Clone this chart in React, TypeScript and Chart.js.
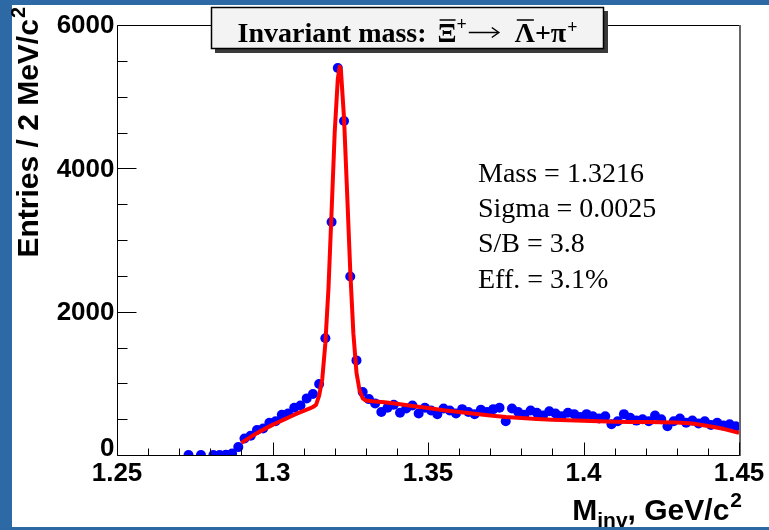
import React, { useEffect, useRef } from 'react';
import { Chart, registerables } from 'chart.js';

Chart.register(...registerables);

// ---- data (2 MeV bins, centres in GeV/c^2) ----
const binMass = [
  1.273, 1.277,
  1.281, 1.283, 1.285, 1.287, 1.289, 1.291, 1.293, 1.295, 1.297, 1.299,
  1.301, 1.303, 1.305, 1.307, 1.309, 1.311, 1.313, 1.315, 1.317, 1.319,
  1.321, 1.323, 1.325, 1.327, 1.329, 1.331, 1.333, 1.335, 1.337, 1.339,
  1.341, 1.343, 1.345, 1.347, 1.349, 1.351, 1.353, 1.355, 1.357, 1.359,
  1.361, 1.363, 1.365, 1.367, 1.369, 1.371, 1.373, 1.375, 1.377, 1.379,
  1.381, 1.383, 1.385, 1.387, 1.389, 1.391, 1.393, 1.395, 1.397, 1.399,
  1.401, 1.403, 1.405, 1.407, 1.409, 1.411, 1.413, 1.415, 1.417, 1.419,
  1.421, 1.423, 1.425, 1.427, 1.429, 1.431, 1.433, 1.435, 1.437, 1.439,
  1.441, 1.443, 1.445, 1.447, 1.449,
];
const binCounts = [
  0, 0,
  0, 0, 5, 20, 110, 230, 270, 350, 370, 450,
  470, 560, 580, 660, 690, 790, 850, 990, 1630, 3250,
  5400, 4660, 2490, 1320, 880, 780, 720, 600, 660, 700,
  590, 650, 690, 580, 660, 620, 570, 650, 620, 580,
  640, 600, 570, 630, 600, 640, 660, 470, 650, 600,
  560, 620, 590, 550, 610, 580, 540, 590, 570, 530,
  570, 540, 510, 540, 430, 470, 570, 520, 480, 500,
  470, 550, 500, 400, 470, 510, 450, 480, 440, 470,
  420, 450, 410, 430, 400,
];

// fitted curve (signal + background)
const fitMass = [
  1.290, 1.292, 1.294, 1.296, 1.298, 1.300, 1.302, 1.304, 1.306, 1.308,
  1.310, 1.312, 1.313, 1.314, 1.315, 1.316, 1.317, 1.318, 1.319, 1.320,
  1.321, 1.3216, 1.322, 1.323, 1.324, 1.325, 1.326, 1.327, 1.328, 1.329,
  1.330, 1.332, 1.336, 1.340, 1.345, 1.350, 1.355, 1.360, 1.365, 1.370,
  1.375, 1.380, 1.385, 1.390, 1.395, 1.400, 1.405, 1.410, 1.415, 1.420,
  1.425, 1.430, 1.435, 1.440, 1.445, 1.450,
];
const fitValues = [
  170, 225, 280, 330, 375, 420, 460, 500, 540, 580,
  615, 650, 670, 700, 830, 1060, 1560, 2330, 3400, 4500,
  5250, 5420, 5370, 4700, 3650, 2570, 1700, 1150, 900, 790,
  760, 750, 735, 715, 685, 655, 625, 600, 575, 550,
  530, 515, 503, 493, 485, 478, 470, 465, 462, 460,
  456, 452, 440, 405, 365, 310,
];

const xTickLabels = ['1.25', '1.3', '1.35', '1.4', '1.45'];
const yTickLabels = ['0', '2000', '4000', '6000'];
const xMinorStep = 0.01;
const yMinorStep = 500;

const statsLines = ['Mass = 1.3216', 'Sigma = 0.0025', 'S/B = 3.8', 'Eff. = 3.1%'];
const yTitleMain = 'Entries / 2 MeV/c';
const yTitleSup = '2';
const xTitleMain = 'M';
const xTitleSub = 'inv';
const xTitleRest = ', GeV/c';
const xTitleSup = '2';

const W = 769;
const H = 530;
const SANS = "'Liberation Sans', Arial, Helvetica, sans-serif";
const SERIF = "'Liberation Serif', 'Times New Roman', serif";

const decorPlugin = {
  id: 'decor',
  afterDatasetsDraw(chart: any) {
    const { ctx, chartArea: a, scales } = chart;
    const xs = scales.x;
    const ys = scales.y;
    ctx.save();

    // ---- frame ----
    const L = Math.round(a.left) + 0.5;
    const R = Math.round(a.right) + 0.5;
    const T = Math.round(a.top) + 0.5;
    const B = Math.round(a.bottom) + 0.5;
    ctx.strokeStyle = '#000';
    ctx.lineWidth = 1;
    ctx.beginPath();
    ctx.moveTo(R, T);
    ctx.lineTo(L, T);
    ctx.lineTo(L, B);
    ctx.lineTo(R, B);
    ctx.stroke();
    ctx.strokeStyle = '#666';
    ctx.lineWidth = 2;
    ctx.beginPath();
    ctx.moveTo(R + 0.5, T - 0.5);
    ctx.lineTo(R + 0.5, B + 0.5);
    ctx.stroke();

    // ---- ticks ----
    ctx.strokeStyle = '#000';
    ctx.lineWidth = 1;
    ctx.beginPath();
    for (let v = xs.min; v <= xs.max + 1e-9; v += xMinorStep) {
      const major = Math.abs(v * 20 - Math.round(v * 20)) < 1e-6;
      const px = Math.round(xs.getPixelForValue(v)) + 0.5;
      const len = major ? 13 : 7;
      ctx.moveTo(px, B);
      ctx.lineTo(px, B - len);
    }
    for (let v = ys.min; v <= ys.max + 1e-9; v += yMinorStep) {
      const major = v % 2000 === 0;
      const py = Math.round(ys.getPixelForValue(v)) + 0.5;
      const len = major ? 19 : 10;
      ctx.moveTo(L, py);
      ctx.lineTo(L + len, py);
    }
    ctx.stroke();

    // ---- tick labels ----
    ctx.fillStyle = '#000';
    ctx.font = `bold 26px ${SANS}`;
    ctx.textAlign = 'right';
    ctx.textBaseline = 'middle';
    yTickLabels.forEach((lab) => {
      const v = parseFloat(lab);
      let py = ys.getPixelForValue(v) + 1;
      if (v === 0) py -= 7;
      ctx.fillText(lab, L - 3, py);
    });
    ctx.textAlign = 'center';
    ctx.textBaseline = 'alphabetic';
    xTickLabels.forEach((lab) => {
      const px = xs.getPixelForValue(parseFloat(lab));
      ctx.fillText(lab, px, 481);
    });

    // ---- y axis title (rotated, aligned at top) ----
    ctx.save();
    ctx.translate(38, 7);
    ctx.rotate(-Math.PI / 2);
    ctx.font = `bold 30px ${SANS}`;
    const mW = ctx.measureText(yTitleMain).width;
    ctx.font = `bold 20px ${SANS}`;
    const sW = ctx.measureText(yTitleSup).width;
    ctx.textAlign = 'left';
    ctx.font = `bold 30px ${SANS}`;
    ctx.fillText(yTitleMain, -(mW + sW + 1), 0);
    ctx.font = `bold 20px ${SANS}`;
    ctx.fillText(yTitleSup, -sW, -13);
    ctx.restore();

    // ---- x axis title (right aligned) ----
    ctx.save();
    ctx.textAlign = 'left';
    ctx.font = `bold 30px ${SANS}`;
    const w1 = ctx.measureText(xTitleMain).width;
    const w3 = ctx.measureText(xTitleRest).width;
    ctx.font = `bold 21px ${SANS}`;
    const w2 = ctx.measureText(xTitleSub).width;
    const w4 = ctx.measureText(xTitleSup).width;
    let cx = 742 - (w1 + w2 + w3 + w4 + 1);
    const by = 520;
    ctx.font = `bold 30px ${SANS}`;
    ctx.fillText(xTitleMain, cx, by);
    cx += w1;
    ctx.font = `bold 21px ${SANS}`;
    ctx.fillText(xTitleSub, cx, by + 7);
    cx += w2;
    ctx.font = `bold 30px ${SANS}`;
    ctx.fillText(xTitleRest, cx, by);
    cx += w3 + 1;
    ctx.font = `bold 21px ${SANS}`;
    ctx.fillText(xTitleSup, cx, by - 13);
    ctx.restore();

    // ---- title box ----
    const bx = 211, bt = 7, bw = 393, bh = 42;
    ctx.fillStyle = '#3a3a3a';
    ctx.fillRect(bx + 4, bt + 4, bw, bh);
    ctx.fillStyle = '#f3f3f3';
    ctx.fillRect(bx, bt, bw, bh);
    ctx.strokeStyle = '#000';
    ctx.lineWidth = 1.5;
    ctx.strokeRect(bx + 0.5, bt + 0.5, bw - 1, bh - 1);

    type Seg = { t: string; font: string; dy: number; over?: boolean; gap?: number; arrow?: number };
    const big = `bold 28px ${SERIF}`;
    const sup = `bold 18px ${SERIF}`;
    const segs: Seg[] = [
      { t: 'Invariant mass:', font: big, dy: 0, gap: 11 },
      { t: 'Ξ', font: big, dy: 0, over: true },
      { t: '+', font: sup, dy: -12, gap: 2 },
      { t: '', font: big, dy: 0, arrow: 30, gap: 16 },
      { t: 'Λ', font: big, dy: 0, over: true },
      { t: '+π', font: big, dy: 0, gap: 1 },
      { t: '+', font: sup, dy: -9 },
    ];
    let total = 0;
    const widths = segs.map((s) => {
      ctx.font = s.font;
      const w = s.arrow ? s.arrow : ctx.measureText(s.t).width;
      total += w + (s.gap || 0);
      return w;
    });
    let tx = bx + bw / 2 - total / 2;
    const tb = 42;
    ctx.fillStyle = '#000';
    ctx.strokeStyle = '#000';
    ctx.textAlign = 'left';
    ctx.textBaseline = 'alphabetic';
    segs.forEach((s, i) => {
      ctx.font = s.font;
      if (s.arrow) {
        const ay = tb - 9.5;
        ctx.lineWidth = 1.5;
        ctx.beginPath();
        ctx.moveTo(tx, ay);
        ctx.lineTo(tx + s.arrow - 1, ay);
        ctx.stroke();
        ctx.beginPath();
        ctx.moveTo(tx + s.arrow - 7, ay - 5);
        ctx.lineTo(tx + s.arrow, ay);
        ctx.lineTo(tx + s.arrow - 7, ay + 5);
        ctx.stroke();
      } else {
        ctx.fillText(s.t, tx, tb + s.dy);
      }
      if (s.over) {
        ctx.lineWidth = 1.5;
        ctx.beginPath();
        ctx.moveTo(tx + 2, tb - 22);
        ctx.lineTo(tx + widths[i] - 1, tb - 22);
        ctx.stroke();
      }
      tx += widths[i] + (s.gap || 0);
    });

    // ---- fit statistics ----
    ctx.font = `28px ${SERIF}`;
    ctx.textAlign = 'left';
    const baselines = [182, 217, 252, 288];
    statsLines.forEach((s, i) => ctx.fillText(s, 478, baselines[i]));

    ctx.restore();
  },
};

export default function App() {
  const ref = useRef<HTMLCanvasElement | null>(null);

  useEffect(() => {
    if (!ref.current) return;
    const points = binMass.map((m, i) => ({ x: m, y: binCounts[i] }));
    const fit = fitMass.map((m, i) => ({ x: m, y: fitValues[i] }));
    const chart = new Chart(ref.current, {
      type: 'scatter',
      data: {
        datasets: [
          {
            label: 'fit',
            data: fit,
            showLine: true,
            borderColor: '#ff0000',
            borderWidth: 4,
            pointRadius: 0,
            tension: 0,
            borderJoinStyle: 'round',
            order: 0,
          } as any,
          {
            label: 'data',
            data: points,
            showLine: false,
            pointRadius: 5,
            pointBackgroundColor: '#0000ff',
            pointBorderWidth: 0,
            order: 1,
          } as any,
        ],
      },
      options: {
        responsive: false,
        animation: false,
        devicePixelRatio: 1,
        layout: { padding: { left: 0, right: 30, top: 25, bottom: 0 } },
        plugins: {
          legend: { display: false },
          tooltip: { enabled: false },
          title: { display: false },
        },
        scales: {
          x: {
            type: 'linear',
            min: 1.25,
            max: 1.45,
            grid: { display: false },
            border: { display: false },
            ticks: { display: false },
            afterFit: (s: any) => {
              s.height = 75;
            },
          },
          y: {
            min: 0,
            max: 6000,
            grid: { display: false },
            border: { display: false },
            ticks: { display: false },
            afterFit: (s: any) => {
              s.width = 117;
            },
          },
        },
      } as any,
      plugins: [decorPlugin],
    });
    return () => chart.destroy();
  }, []);

  return (
    <div
      style={{
        position: 'fixed',
        left: 0,
        top: 0,
        width: W,
        height: H,
        background: '#2c69a5',
        overflow: 'hidden',
      }}
    >
      <div
        style={{
          position: 'absolute',
          left: 12,
          top: 5,
          width: W - 12,
          height: H - 8,
          background: '#ffffff',
        }}
      />
      <canvas
        ref={ref}
        width={W}
        height={H}
        style={{ position: 'absolute', left: 0, top: 0, width: W, height: H }}
      />
    </div>
  );
}
